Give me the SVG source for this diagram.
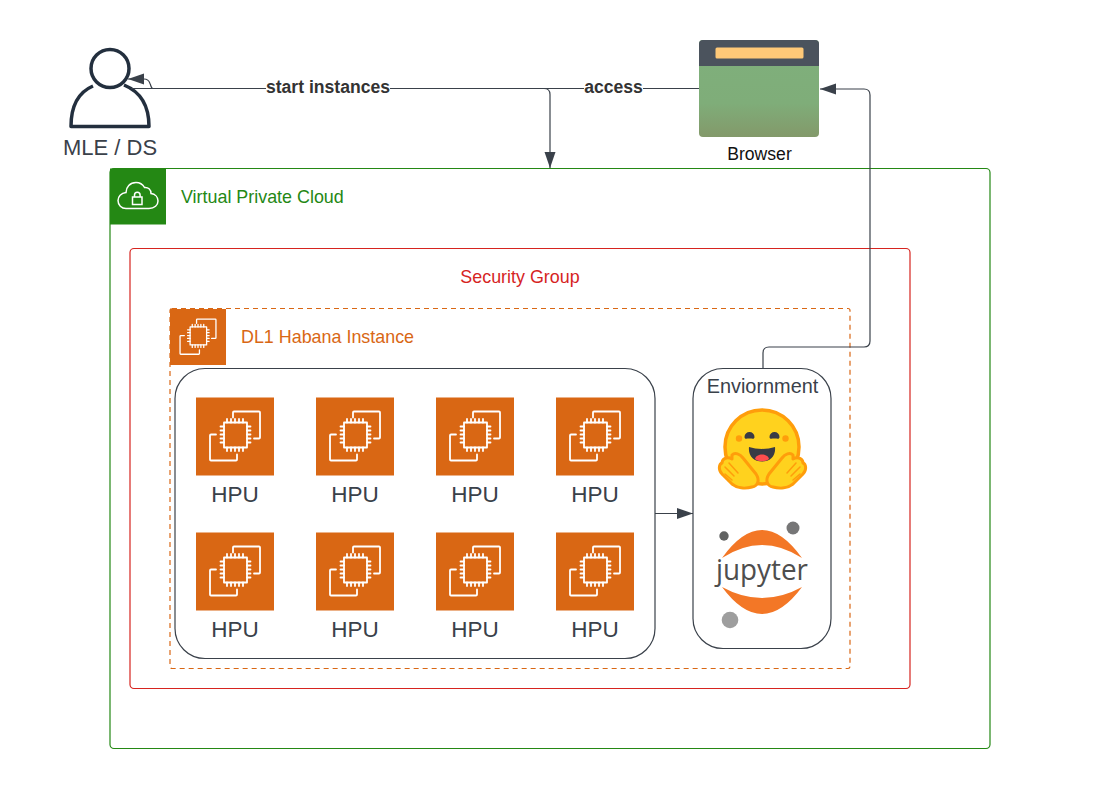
<svg xmlns="http://www.w3.org/2000/svg" xmlns:xlink="http://www.w3.org/1999/xlink" width="1101" height="789" viewBox="0 0 1101 789">
<style>
text{font-family:"Liberation Sans",Arial,sans-serif}
.conn{fill:none;stroke:#3a414a;stroke-width:1.2}
.hpu{font-size:22.5px;fill:#3a414a;text-anchor:middle}
.ico{fill:none;stroke:#fff;stroke-width:1.8;stroke-linejoin:round;stroke-linecap:round}
.lbl{font-size:17.6px;font-weight:bold;fill:#333;text-anchor:middle}
</style>
<defs>
<marker id="ah" markerUnits="userSpaceOnUse" markerWidth="18" markerHeight="12" refX="16" refY="5.500" orient="auto"><path d="M0,0L16,5.500L0,11Z" fill="#3a414a"/></marker>
<linearGradient id="bg" x1="0" y1="0" x2="0" y2="1"><stop offset="0" stop-color="#7fb07c"/><stop offset=".65" stop-color="#7fad79"/><stop offset="1" stop-color="#83996a"/></linearGradient>
<g id="chip">
<rect width="78" height="78" fill="#d96714"/>
<path class="ico" d="M37,20V15a1,1 0 0 1 1,-1H63a1,1 0 0 1 1,1V40a1,1 0 0 1 -1,1H58M20,37H15a1,1 0 0 0 -1,1V62a1,1 0 0 0 1,1H40a1,1 0 0 0 1,-1V57"/>
<rect class="ico" x="28" y="25" width="23" height="25"/>
<path class="ico" d="M31,25v-3.500M35,25v-3.500M39,25v-3.500M43,25v-3.500M47,25v-3.500M31,50v3.500M35,50v3.500M39,50v3.500M43,50v3.500M47,50v3.500M28,29h-3.500M28,33h-3.500M28,37h-3.500M28,41h-3.500M28,45h-3.500M51,29h3.500M51,33h3.500M51,37h3.500M51,41h3.500M51,45h3.500"/>
</g>
<g id="hand">
<path d="M13,2C16,-1 21,1 24,5L37,21C41,27 39,33 33,34C26,36 18,35 13,31L3,21C-1,17 0,11 3,10C3,6 8,3 13,6Z" fill="#ffd21e" stroke="#ff9d0b" stroke-width="3" stroke-linejoin="round"/>
<path d="M10,10l9,10M6,14l9,9M6,21l7,6" stroke="#ff9d0b" stroke-width="1.500" fill="none" stroke-linecap="round"/>
</g>
</defs>

<g id="vpc">
<rect x="110" y="168.500" width="880" height="580" rx="4" fill="#fff" stroke="#248814" stroke-width="1.200"/>
<rect x="110" y="168.500" width="56" height="56" fill="#248814"/>
<path d="M126,208.500h23c5.500,0 9,-3.500 9,-7.500c0,-4 -3,-7 -7,-7.500c0,-4 -3,-6.500 -6.500,-6c-2,-3.500 -5,-5 -8.500,-5c-6,0 -10,4.500 -10,10c-5,.5 -8,4 -8,8c0,4.500 3.500,8 8,8Z" fill="none" stroke="#fff" stroke-width="1.500"/>
<rect x="132.500" y="197" width="9.500" height="7.500" fill="none" stroke="#fff" stroke-width="1.500"/>
<path d="M134.500,197v-2a2.800,2.800 0 0 1 5.600,0v2" fill="none" stroke="#fff" stroke-width="1.500"/>
<text x="181" y="202.500" font-size="17.900" fill="#248814">Virtual Private Cloud</text>
</g>

<g id="security-group">
<rect x="130" y="248.500" width="780" height="440" rx="4" fill="#fff" stroke="#d6241f" stroke-width="1.200"/>
<text x="520" y="282.500" font-size="17.900" fill="#d6241f" text-anchor="middle">Security Group</text>
</g>

<g id="dl1-instance">
<rect x="170" y="308.500" width="680" height="360" rx="2" fill="#fff" stroke="#d96714" stroke-width="1.200" stroke-dasharray="5 4"/>
<use href="#chip" transform="translate(170,309) scale(.718)"/>
<text x="241" y="342.500" font-size="17.900" fill="#d96714">DL1 Habana Instance</text>
</g>

<g id="hpu-panel"><rect x="175" y="368.500" width="480" height="290" rx="30" fill="#fff" stroke="#3a414a" stroke-width="1.200"/></g>

<g id="hpu-1"><use href="#chip" x="196" y="397.500"/><text class="hpu" x="235" y="502">HPU</text></g>
<g id="hpu-2"><use href="#chip" x="316" y="397.500"/><text class="hpu" x="355" y="502">HPU</text></g>
<g id="hpu-3"><use href="#chip" x="436" y="397.500"/><text class="hpu" x="475" y="502">HPU</text></g>
<g id="hpu-4"><use href="#chip" x="556" y="397.500"/><text class="hpu" x="595" y="502">HPU</text></g>
<g id="hpu-5"><use href="#chip" x="196" y="532.500"/><text class="hpu" x="235" y="637">HPU</text></g>
<g id="hpu-6"><use href="#chip" x="316" y="532.500"/><text class="hpu" x="355" y="637">HPU</text></g>
<g id="hpu-7"><use href="#chip" x="436" y="532.500"/><text class="hpu" x="475" y="637">HPU</text></g>
<g id="hpu-8"><use href="#chip" x="556" y="532.500"/><text class="hpu" x="595" y="637">HPU</text></g>

<g id="environment">
<rect x="693" y="368.500" width="138" height="280" rx="30" fill="#fff" stroke="#3a414a" stroke-width="1.200"/>
<text x="762.500" y="392.500" font-size="19.900" fill="#3a414a" text-anchor="middle">Enviornment</text>
<g id="huggingface-logo">
<circle cx="762" cy="447" r="37" fill="#ffd21e" stroke="#ff9d0b" stroke-width="3.500"/>
<circle cx="739" cy="438.500" r="3.200" fill="#ff9d0b"/>
<circle cx="785.500" cy="438.500" r="3.200" fill="#ff9d0b"/>
<path d="M744.500,437a5,5 0 0 1 10,0c0,2.500 -2,1.500 -5,1.500s-5,1 -5,-1.500ZM769.500,437a5,5 0 0 1 10,0c0,2.500 -2,1.500 -5,1.500s-5,1 -5,-1.500Z" fill="#3a3b45"/>
<path d="M749,447c8,2.500 18,2.500 26,0c1,9 -5,14.500 -13,14.500s-14,-5.500 -13,-14.500Z" fill="#3a3b45"/>
<path d="M755,459c1,-6 13,-6 14,0c-3.500,3 -10.500,3 -14,0Z" fill="#ff4d4d"/>
<use href="#hand" transform="translate(719,453)"/>
<use href="#hand" transform="translate(806,453) scale(-1,1)"/>
</g>
<g id="jupyter-logo">
<text x="762" y="580" font-size="29.500" fill="#4e4e4e" text-anchor="middle" style="font-family:'Open Sans',sans-serif" textLength="92" lengthAdjust="spacingAndGlyphs">jupyter</text>
<path d="M722,558Q762,502 802,558Q762,532 722,558Z" fill="#f37726"/>
<path d="M722,587Q762,609 802,587Q762,641 722,587Z" fill="#f37726"/>
<circle cx="793" cy="528" r="6.500" fill="#767677"/>
<circle cx="724" cy="536" r="4.700" fill="#616262"/>
<circle cx="730" cy="620" r="8.300" fill="#9e9e9e"/>
</g>
</g>

<g id="user">
<circle cx="110" cy="68.500" r="19" fill="none" stroke="#232f3e" stroke-width="3.500"/>
<path d="M93,86C79,92 71,105 71,126.500H149C149,105 141,92 124,85" fill="none" stroke="#232f3e" stroke-width="3.500" stroke-linejoin="round"/>
<text x="110" y="155" font-size="22" fill="#3a414a" text-anchor="middle">MLE / DS</text>
</g>

<g id="browser">
<rect x="699" y="40" width="120" height="97" rx="4" fill="url(#bg)"/>
<path d="M699,66V44a4,4 0 0 1 4,-4H815a4,4 0 0 1 4,4V66Z" fill="#4b535d"/>
<rect x="715.500" y="47.500" width="88" height="11" rx="1.500" fill="#ffc978"/>
<text x="759.500" y="160" font-size="17.600" fill="#111" text-anchor="middle">Browser</text>
</g>

<g id="connectors">
<path class="conn" d="M131,88.500H544c4,0 6,2 6,6V168" marker-end="url(#ah)"/>
<path class="conn" d="M699,88.500H153c-2,0 -2,-3 -3,-5c-1,-3 -3,-4.500 -6,-4.500H128" marker-end="url(#ah)"/>
<path class="conn" d="M763,368.500V353c0,-4 2,-6 6,-6H864c4,0 6,-2 6,-6V95c0,-4 -2,-6 -6,-6H820" marker-end="url(#ah)"/>
<path class="conn" d="M655,513.500H693" marker-end="url(#ah)"/>
<rect x="266" y="78" width="124" height="20" fill="#fff"/>
<text class="lbl" x="328" y="92.500">start instances</text>
<rect x="584" y="78" width="59" height="20" fill="#fff"/>
<text class="lbl" x="613.500" y="92.500">access</text>
</g>
</svg>
